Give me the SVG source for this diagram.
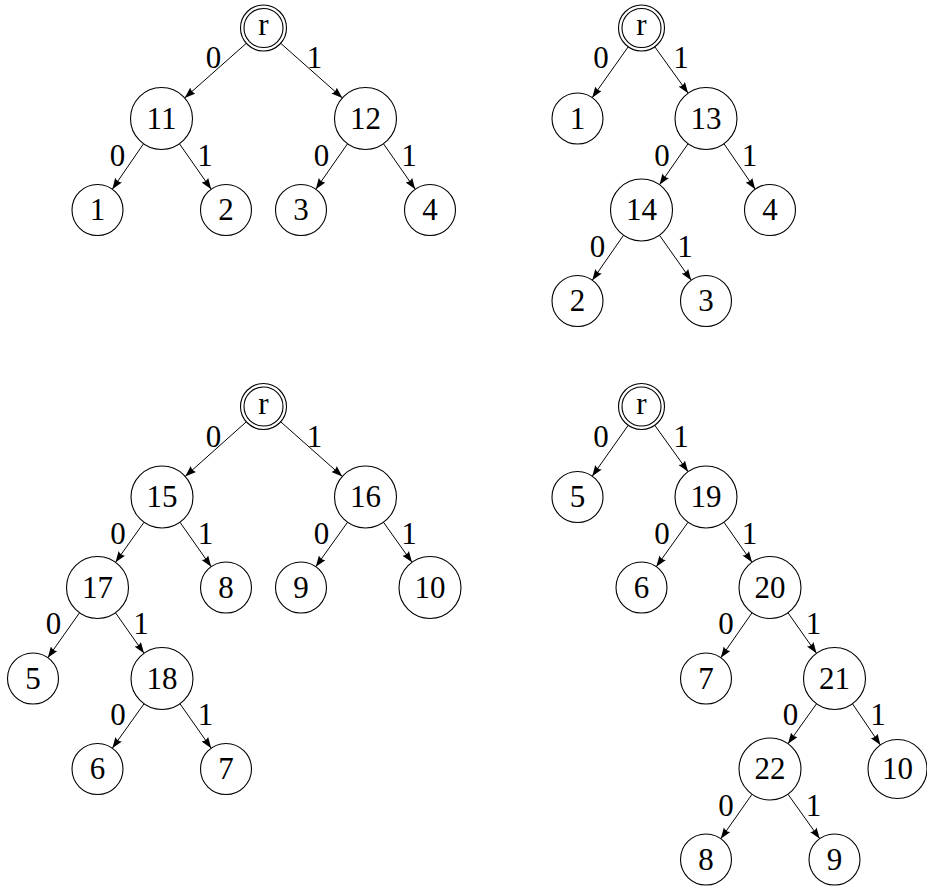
<svg xmlns="http://www.w3.org/2000/svg" width="927" height="886" viewBox="0 0 927 886">
<style>
.n{fill:#fff;stroke:#000;stroke-width:1.1}
.t{font-family:"Liberation Serif","Times New Roman",serif;font-size:31px;fill:#000;text-anchor:middle}
.e{stroke:#000;stroke-width:1;fill:none;marker-end:url(#ah)}
</style>
<defs>
<marker id="ah" markerUnits="userSpaceOnUse" markerWidth="12" markerHeight="9" refX="11" refY="4" orient="auto" viewBox="0 0 12 9">
<path d="M0,0 L11,4 L0,8 Q2.5,4 0,0 z" fill="#000"/>
</marker>
</defs>
<rect width="927" height="886" fill="#fff"/>
<g id="connectors">
<line class="e" x1="246.3" y1="43.3" x2="184.7" y2="97.9"/>
<line class="e" x1="280.7" y1="43.3" x2="342.3" y2="97.9"/>
<line class="e" x1="143.5" y1="143.8" x2="112.3" y2="189.2"/>
<line class="e" x1="179.5" y1="143.8" x2="211.2" y2="189.2"/>
<line class="e" x1="347.5" y1="143.8" x2="315.8" y2="189.2"/>
<line class="e" x1="383.5" y1="143.8" x2="415.2" y2="189.2"/>
<line class="e" x1="628.2" y1="46.8" x2="592.2" y2="97.7"/>
<line class="e" x1="654.8" y1="46.8" x2="688.1" y2="93.2"/>
<line class="e" x1="688.0" y1="143.8" x2="659.5" y2="184.8"/>
<line class="e" x1="724.0" y1="143.8" x2="755.2" y2="189.2"/>
<line class="e" x1="623.5" y1="235.3" x2="592.3" y2="280.2"/>
<line class="e" x1="659.5" y1="235.3" x2="691.2" y2="280.2"/>
<line class="e" x1="246.3" y1="421.8" x2="185.2" y2="476.4"/>
<line class="e" x1="280.7" y1="421.8" x2="342.3" y2="476.4"/>
<line class="e" x1="144.0" y1="522.3" x2="115.5" y2="562.3"/>
<line class="e" x1="180.0" y1="522.3" x2="211.2" y2="566.7"/>
<line class="e" x1="347.5" y1="522.3" x2="315.8" y2="566.7"/>
<line class="e" x1="383.5" y1="522.3" x2="412.0" y2="562.3"/>
<line class="e" x1="79.5" y1="612.8" x2="47.8" y2="657.7"/>
<line class="e" x1="115.5" y1="612.8" x2="144.0" y2="653.3"/>
<line class="e" x1="144.0" y1="703.8" x2="112.3" y2="748.2"/>
<line class="e" x1="180.0" y1="703.8" x2="211.2" y2="748.2"/>
<line class="e" x1="628.2" y1="425.3" x2="592.2" y2="476.2"/>
<line class="e" x1="654.8" y1="425.3" x2="688.1" y2="471.7"/>
<line class="e" x1="688.0" y1="522.3" x2="656.3" y2="566.7"/>
<line class="e" x1="724.0" y1="522.3" x2="752.0" y2="562.3"/>
<line class="e" x1="752.0" y1="612.8" x2="720.8" y2="657.7"/>
<line class="e" x1="788.0" y1="612.8" x2="816.5" y2="653.3"/>
<line class="e" x1="816.5" y1="703.8" x2="788.0" y2="743.8"/>
<line class="e" x1="852.5" y1="703.8" x2="880.4" y2="745.0"/>
<line class="e" x1="752.0" y1="794.3" x2="720.8" y2="838.7"/>
<line class="e" x1="788.0" y1="794.3" x2="819.7" y2="838.7"/>
</g>
<g id="edge-labels">
<text class="t" x="213.5" y="68">0</text><text class="t" x="314.5" y="68">1</text>
<text class="t" x="117.5" y="165.5">0</text><text class="t" x="205" y="165.5">1</text>
<text class="t" x="321.5" y="165.5">0</text><text class="t" x="409" y="165.5">1</text>
<text class="t" x="601" y="68">0</text><text class="t" x="681" y="68">1</text>
<text class="t" x="662" y="165.5">0</text><text class="t" x="749.5" y="165.5">1</text>
<text class="t" x="597.5" y="257">0</text><text class="t" x="685" y="257">1</text>
<text class="t" x="213.5" y="447">0</text><text class="t" x="314.5" y="447">1</text>
<text class="t" x="118" y="543.5">0</text><text class="t" x="205.5" y="543.5">1</text>
<text class="t" x="321.5" y="543.5">0</text><text class="t" x="409" y="543.5">1</text>
<text class="t" x="53.5" y="634">0</text><text class="t" x="141" y="634">1</text>
<text class="t" x="118" y="725">0</text><text class="t" x="205.5" y="725">1</text>
<text class="t" x="601" y="447">0</text><text class="t" x="681" y="447">1</text>
<text class="t" x="662" y="543.5">0</text><text class="t" x="749.5" y="543.5">1</text>
<text class="t" x="726" y="634">0</text><text class="t" x="813.5" y="634">1</text>
<text class="t" x="790.5" y="725">0</text><text class="t" x="878" y="725">1</text>
<text class="t" x="726" y="816">0</text><text class="t" x="813.5" y="816">1</text>
</g>
<g id="t1-r"><circle class="n" cx="263.5" cy="28" r="23"/><circle class="n" cx="263.5" cy="28" r="19.5"/><text class="t" x="263.5" y="35">r</text></g>
<g id="t1-11"><circle class="n" cx="161.5" cy="118.5" r="31"/><text class="t" x="161.5" y="128.5">11</text></g>
<g id="t1-12"><circle class="n" cx="365.5" cy="118.5" r="31"/><text class="t" x="365.5" y="128.5">12</text></g>
<g id="t1-1"><circle class="n" cx="97.5" cy="210" r="25.5"/><text class="t" x="97.5" y="220">1</text></g>
<g id="t1-2"><circle class="n" cx="226" cy="210" r="25.5"/><text class="t" x="226" y="220">2</text></g>
<g id="t1-3"><circle class="n" cx="301" cy="210" r="25.5"/><text class="t" x="301" y="220">3</text></g>
<g id="t1-4"><circle class="n" cx="430" cy="210" r="25.5"/><text class="t" x="430" y="220">4</text></g>
<g id="t2-r"><circle class="n" cx="641.5" cy="28" r="23"/><circle class="n" cx="641.5" cy="28" r="19.5"/><text class="t" x="641.5" y="35">r</text></g>
<g id="t2-1"><circle class="n" cx="577.5" cy="118.5" r="25.5"/><text class="t" x="577.5" y="128.5">1</text></g>
<g id="t2-13"><circle class="n" cx="706" cy="118.5" r="31"/><text class="t" x="706" y="128.5">13</text></g>
<g id="t2-14"><circle class="n" cx="641.5" cy="210" r="31"/><text class="t" x="641.5" y="220">14</text></g>
<g id="t2-4"><circle class="n" cx="770" cy="210" r="25.5"/><text class="t" x="770" y="220">4</text></g>
<g id="t2-2"><circle class="n" cx="577.5" cy="301" r="25.5"/><text class="t" x="577.5" y="311">2</text></g>
<g id="t2-3"><circle class="n" cx="706" cy="301" r="25.5"/><text class="t" x="706" y="311">3</text></g>
<g id="t3-r"><circle class="n" cx="263.5" cy="406.5" r="23"/><circle class="n" cx="263.5" cy="406.5" r="19.5"/><text class="t" x="263.5" y="413.5">r</text></g>
<g id="t3-15"><circle class="n" cx="162" cy="497" r="31"/><text class="t" x="162" y="507">15</text></g>
<g id="t3-16"><circle class="n" cx="365.5" cy="497" r="31"/><text class="t" x="365.5" y="507">16</text></g>
<g id="t3-17"><circle class="n" cx="97.5" cy="587.5" r="31"/><text class="t" x="97.5" y="597.5">17</text></g>
<g id="t3-8"><circle class="n" cx="226" cy="587.5" r="25.5"/><text class="t" x="226" y="597.5">8</text></g>
<g id="t3-9"><circle class="n" cx="301" cy="587.5" r="25.5"/><text class="t" x="301" y="597.5">9</text></g>
<g id="t3-10"><circle class="n" cx="430" cy="587.5" r="31"/><text class="t" x="430" y="597.5">10</text></g>
<g id="t3-5"><circle class="n" cx="33" cy="678.5" r="25.5"/><text class="t" x="33" y="688.5">5</text></g>
<g id="t3-18"><circle class="n" cx="162" cy="678.5" r="31"/><text class="t" x="162" y="688.5">18</text></g>
<g id="t3-6"><circle class="n" cx="97.5" cy="769" r="25.5"/><text class="t" x="97.5" y="779">6</text></g>
<g id="t3-7"><circle class="n" cx="226" cy="769" r="25.5"/><text class="t" x="226" y="779">7</text></g>
<g id="t4-r"><circle class="n" cx="641.5" cy="406.5" r="23"/><circle class="n" cx="641.5" cy="406.5" r="19.5"/><text class="t" x="641.5" y="413.5">r</text></g>
<g id="t4-5"><circle class="n" cx="577.5" cy="497" r="25.5"/><text class="t" x="577.5" y="507">5</text></g>
<g id="t4-19"><circle class="n" cx="706" cy="497" r="31"/><text class="t" x="706" y="507">19</text></g>
<g id="t4-6"><circle class="n" cx="641.5" cy="587.5" r="25.5"/><text class="t" x="641.5" y="597.5">6</text></g>
<g id="t4-20"><circle class="n" cx="770" cy="587.5" r="31"/><text class="t" x="770" y="597.5">20</text></g>
<g id="t4-7"><circle class="n" cx="706" cy="678.5" r="25.5"/><text class="t" x="706" y="688.5">7</text></g>
<g id="t4-21"><circle class="n" cx="834.5" cy="678.5" r="31"/><text class="t" x="834.5" y="688.5">21</text></g>
<g id="t4-22"><circle class="n" cx="770" cy="769" r="31"/><text class="t" x="770" y="779">22</text></g>
<g id="t4-10"><circle class="n" cx="897.5" cy="769" r="29.5"/><text class="t" x="897.5" y="779">10</text></g>
<g id="t4-8"><circle class="n" cx="706" cy="859.5" r="25.5"/><text class="t" x="706" y="869.5">8</text></g>
<g id="t4-9"><circle class="n" cx="834.5" cy="859.5" r="25.5"/><text class="t" x="834.5" y="869.5">9</text></g>
</svg>
